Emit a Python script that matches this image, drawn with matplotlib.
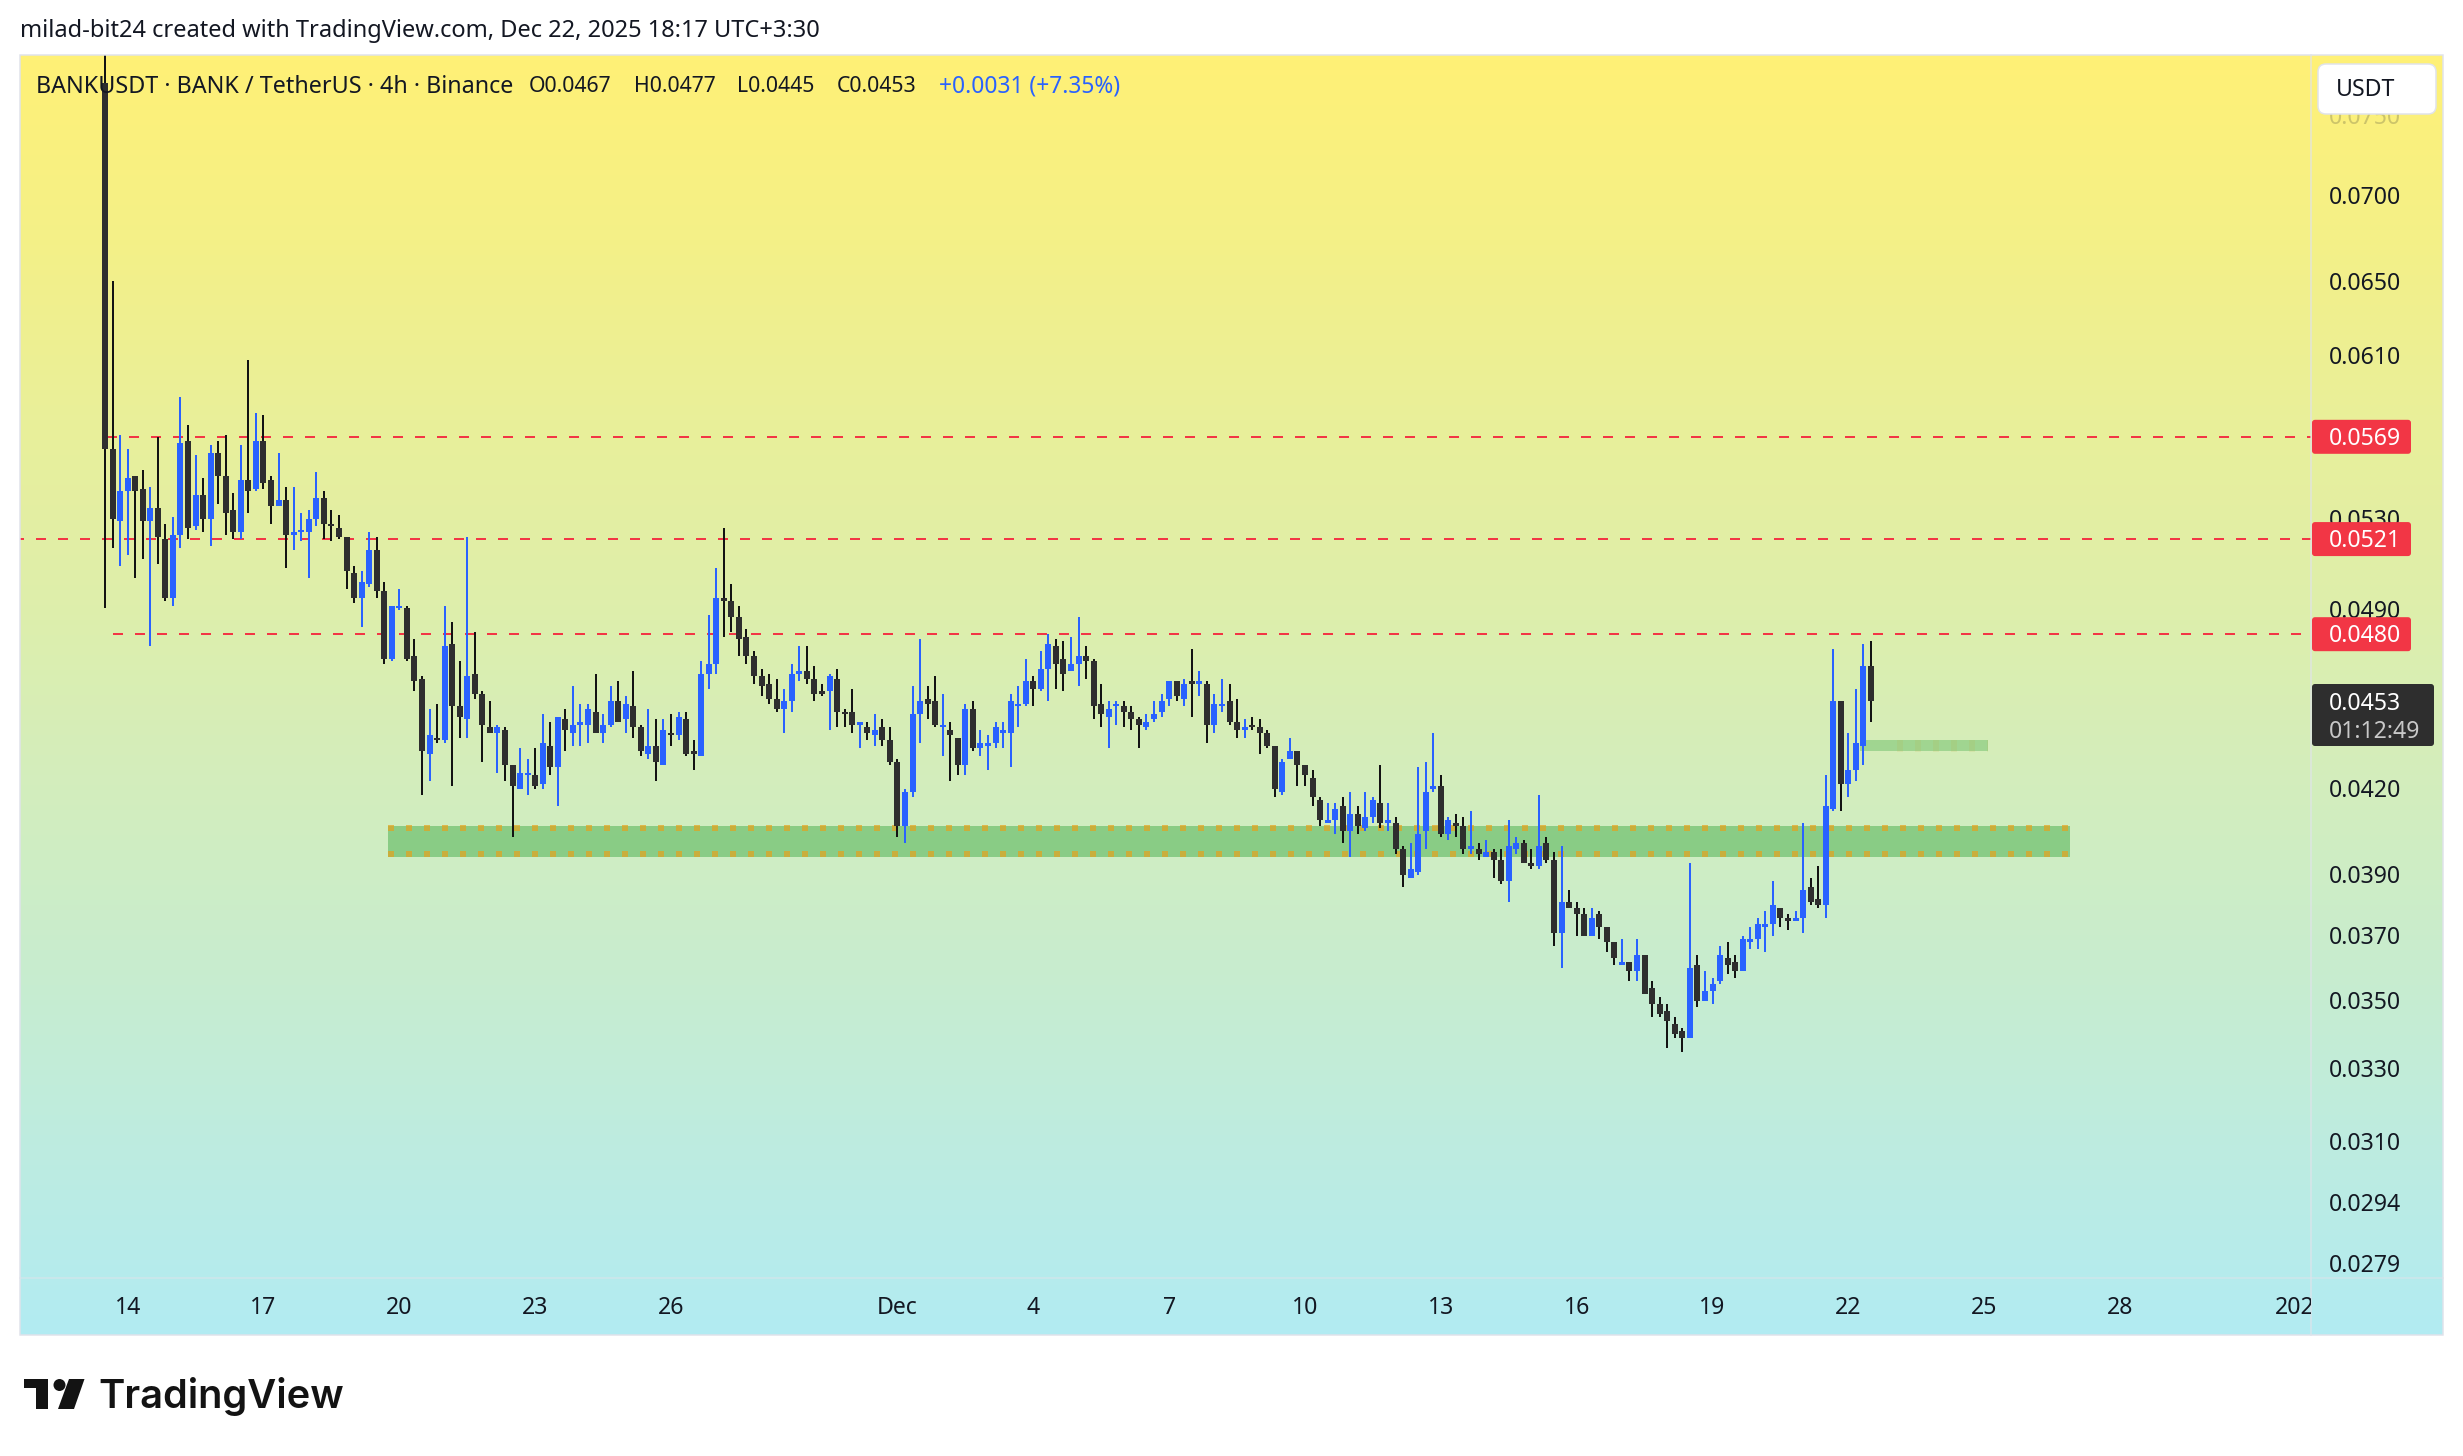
import numpy as np
import matplotlib
matplotlib.use("Agg")
import matplotlib.pyplot as plt
from matplotlib.colors import LinearSegmentedColormap
from matplotlib.patches import FancyBboxPatch, Polygon, Circle, Rectangle

# BANKUSDT 4h candles, prices in ticks of 0.0001
tick = 0.0001
opens = [772,563,529,543,550,544,529,535,521,495,523,567,527,541,530,561,550,534,524,548,
         544,567,548,536,539,523,524,524,530,540,528,526,522,506,495,501,516,498,470,491,
         491,471,462,433,439,438,476,451,446,464,456,443,441,442,429,420,425,425,422,436,
         428,446,441,444,444,449,441,444,453,446,451,443,433,436,429,441,440,446,434,432,
         464,468,495,494,487,479,471,463,460,454,450,453,464,465,462,457,457,462,449,449,
         444,443,440,443,438,430,407,419,448,454,453,443,442,439,429,450,435,436,437,441,
         441,451,452,461,458,466,475,470,465,468,471,469,452,447,451,451,449,446,443,446,
         449,454,461,454,461,460,460,444,451,453,445,442,444,443,441,436,419,431,434,429,
         424,416,408,409,414,405,411,406,410,415,408,408,399,389,391,405,420,421,404,408,
         407,399,399,396,398,395,388,399,401,394,393,401,395,371,381,379,377,370,377,373,
         368,361,362,359,364,354,349,347,343,341,339,361,350,353,356,363,362,359,368,369,
         373,374,379,376,375,376,386,382,380,413,453,422,427,436,467]
highs = [800,651,570,563,550,553,545,569,528,531,589,575,560,549,565,567,570,542,565,608,
         581,580,550,561,545,545,533,534,552,543,534,532,522,509,507,524,522,502,492,499,
         492,478,463,450,452,492,485,469,522,481,457,453,444,443,429,435,431,435,448,445,
         447,450,459,452,452,464,448,459,461,455,465,444,450,446,446,448,449,449,438,469,
         488,508,526,501,492,482,473,466,464,462,458,468,475,475,467,460,464,466,450,458,
         445,445,448,446,443,431,420,459,478,459,463,456,445,439,452,453,442,440,445,445,
         456,459,470,463,473,480,478,477,479,487,475,470,460,453,453,453,451,447,448,453,
         456,461,461,462,474,465,461,456,462,460,454,446,447,446,442,436,431,439,434,429,
         427,417,415,415,417,419,414,419,417,429,415,410,400,401,428,430,441,425,410,411,
         410,412,401,402,399,399,409,403,402,399,418,403,398,400,385,381,379,379,378,373,
         368,369,362,369,364,356,351,349,345,342,394,364,359,357,367,368,364,370,373,376,
         378,388,379,377,378,408,389,393,425,474,453,441,458,476,477]
lows = [491,517,509,514,504,512,475,510,494,492,517,521,525,524,518,537,523,521,521,533,
        543,544,528,536,508,516,520,504,527,521,520,521,499,493,483,500,495,468,469,490,
        469,457,418,423,437,437,421,439,439,454,430,441,426,423,403,420,418,420,420,425,
        414,434,436,436,437,441,437,443,445,441,439,432,431,423,429,436,438,432,427,432,
        458,464,479,481,471,468,460,455,452,449,441,449,461,460,453,455,442,443,443,441,
        435,438,436,436,429,403,401,417,437,446,443,432,423,425,425,434,432,427,435,435,
        428,443,451,451,457,453,458,457,465,459,462,446,443,435,444,443,442,435,442,445,
        447,451,453,451,447,455,437,441,449,444,439,439,442,433,435,417,418,431,421,421,
        414,407,408,404,401,396,404,405,408,406,405,397,386,389,390,399,419,403,402,403,
        397,397,395,396,389,387,381,397,394,392,392,394,367,360,379,370,370,370,369,365,
        361,361,356,356,352,345,345,336,339,335,339,348,350,349,355,358,357,359,366,366,
        365,370,373,372,375,371,380,379,376,412,412,417,423,429,445]
closes = [563,530,543,549,543,529,535,522,495,523,566,526,541,530,561,550,533,524,548,543,
          567,547,536,539,523,524,525,530,540,528,527,522,507,495,502,516,498,470,492,492,
          470,461,434,440,438,475,451,447,463,456,444,441,443,429,421,426,426,421,437,428,
          447,442,444,445,450,441,444,453,445,452,443,434,436,430,442,440,447,433,433,464,
          468,495,494,487,478,471,463,459,454,450,453,464,465,462,456,456,463,449,448,444,
          445,441,442,438,430,407,419,448,453,452,444,444,440,429,450,435,437,437,443,442,
          453,452,461,458,466,476,468,464,468,471,469,451,448,450,452,449,446,444,445,448,
          453,461,455,460,460,461,444,452,452,445,442,443,443,441,436,420,430,434,429,425,
          417,409,409,413,405,411,407,410,416,408,409,399,390,392,404,419,421,404,409,407,
          399,400,397,398,395,388,400,401,394,393,400,395,371,381,379,377,370,376,373,368,
          363,362,359,364,352,349,346,344,340,339,360,350,353,355,364,361,359,369,369,374,
          374,380,376,375,376,385,381,380,414,453,422,427,437,467,453]

tick_pos = [3, 21, 39, 57, 75, 105, 123, 141, 159, 177, 195, 213, 231, 249, 267, 291]
tick_labels = ["14", "17", "20", "23", "26", "Dec", "4", "7", "10", "13", "16", "19", "22", "25", "28", "2026"]

price_ticks = [0.0750, 0.0700, 0.0650, 0.0610, 0.0530, 0.0490, 0.0420, 0.0390, 0.0370,
               0.0350, 0.0330, 0.0310, 0.0294, 0.0279]
level_prices = [0.0569, 0.0521, 0.0480]
level_starts = [0.25, -12, 1]
last_price = 0.0453
zone_top, zone_bottom = 0.0407, 0.0396
zone_start, zone_end = 37.5, 260.4
box_top, box_bottom = 0.0438, 0.0434
box_start, box_end = 232.5, 249.5

W, H = 2463, 1456
PX = 72 / 100  # one pixel in points
BLUE = "#2962FF"
BODY = "#2E2E2E"
WICK = "#131313"
RED = "#F23645"
INK = "#131722"

fig = plt.figure(figsize=(W / 100, H / 100), dpi=100, facecolor="white")

# pixel canvas behind the chart, for the gradient
bg = fig.add_axes([0, 0, 1, 1], zorder=0)
bg.axis("off")
cmap = LinearSegmentedColormap.from_list("tv", ["#FFF176", "#B2EBF2"])
bg.imshow(np.linspace(0, 1, 256).reshape(-1, 1), cmap=cmap, aspect="auto",
          extent=(20, 2443, 1335, 55), zorder=1)
bg.set_xlim(0, W)
bg.set_ylim(H, 0)

# price chart
L, R, T, B = 20, 2311, 55, 1278
step = 7.547
ax = fig.add_axes([L / W, 1 - B / H, (R - L) / W, (B - T) / H], zorder=1)
ax.patch.set_alpha(0)
ax.set_yscale("log")
ax.set_xlim((L - 105) / step, (R - 105) / step)
ax.set_ylim(0.02756, 0.07907)
ax.axis("off")

o = np.array(opens) * tick
h = np.array(highs) * tick
l = np.array(lows) * tick
c = np.array(closes) * tick
x = np.arange(len(o))
up = c >= o

ax.add_patch(Rectangle((zone_start, zone_bottom), zone_end - zone_start, zone_top - zone_bottom,
                       facecolor="#4CAF50", alpha=0.53, lw=0, zorder=1))
for p in (0.04062, 0.03972):
    ax.plot([zone_start, zone_end], [p, p], color="#E5A21C", alpha=0.7, lw=6 * PX,
            ls=(0, (1, 2)), dash_capstyle="butt", zorder=2)
ax.add_patch(Rectangle((box_start, box_bottom), box_end - box_start, box_top - box_bottom,
                       facecolor="#4CAF50", alpha=0.38, lw=0, zorder=1))
ax.plot([box_start + 5, box_end], [0.0436, 0.0436], color="#C9A835", alpha=0.12, lw=12 * PX,
        ls=(0, (0.5, 1)), dash_capstyle="butt", zorder=2)

for p, s in zip(level_prices, level_starts):
    ax.plot([s, 293], [p, p], color=RED, lw=2 * PX, ls=(0, (5, 6)),
            dash_capstyle="butt", zorder=3)

ax.vlines(x[up], l[up], h[up], color=BLUE, lw=2 * PX, antialiased=False, zorder=4)
ax.vlines(x[~up], l[~up], h[~up], color=WICK, lw=2 * PX, antialiased=False, zorder=4)
ax.bar(x[up], (c - o)[up], bottom=o[up], width=6 / step, color=BLUE, lw=0,
       antialiased=False, zorder=5)
ax.bar(x[~up], (o - c)[~up], bottom=c[~up], width=6 / step, color=BODY, lw=0,
       antialiased=False, zorder=5)

# labels and frame sit on a second pixel canvas
top = fig.add_axes([0, 0, 1, 1], zorder=2)
top.patch.set_alpha(0)
top.set_xlim(0, W)
top.set_ylim(H, 0)
top.axis("off")

top.add_patch(Rectangle((20, 55), 2423, 1280, fill=False, ec="#E0E3EB", lw=1.5 * PX))
top.plot([R, R], [55, 1335], color="#E0E3EB", alpha=0.6, lw=2 * PX)
top.plot([20, 2443], [B, B], color="#E0E3EB", alpha=0.45, lw=2 * PX)

TEXT = ["Noto Sans", "DejaVu Sans"]
top.text(20, 31, "milad-bit24 created with TradingView.com, Dec 22, 2025 18:17 UTC+3:30",
         family=TEXT, fontsize=17, color=INK, va="center")
top.text(36, 87, "BANKUSDT · BANK / TetherUS · 4h · Binance", family=TEXT, fontsize=16.8,
         color=INK, va="center")
for tx, s in zip([529, 634, 737, 837], ["O0.0467", "H0.0477", "L0.0445", "C0.0453"]):
    top.text(tx, 87, s, family=TEXT, fontsize=15.3, color=INK, va="center")
top.text(939, 87, "+0.0031 (+7.35%)", family=TEXT, fontsize=16.4, color=BLUE, va="center")

# time axis
for pos, s in zip(tick_pos, tick_labels):
    t = top.text(105 + pos * step, 1308, s, family=TEXT, fontsize=16.6, color=INK,
                 ha="center", va="center")
    t.set_clip_on(True)
    t.set_clip_path(Rectangle((20, 1278), R - 20, 57, transform=top.transData))

# price axis
to_y = lambda p: T + (B - T) * np.log(0.07907 / p) / np.log(0.07907 / 0.02756)
for p in price_ticks:
    top.text(2329, to_y(p) + 2, f"{p:.4f}", family=TEXT, fontsize=16.6, color=INK,
             va="center", alpha=0.2 if p == 0.0750 else 1)

top.add_patch(FancyBboxPatch((2318, 64), 118, 50, boxstyle="round,pad=0,rounding_size=8",
                             fc="white", ec="#E0E3EB", lw=1.5 * PX, zorder=4))
top.text(2336, 90, "USDT", family=TEXT, fontsize=16.6, color=INK, va="center", zorder=5)

for p in level_prices:
    yy = to_y(p)
    top.add_patch(FancyBboxPatch((2312, yy - 17), 99, 34, boxstyle="round,pad=0,rounding_size=3",
                                 fc=RED, ec="none", zorder=4))
    top.text(2329, yy + 2, f"{p:.4f}", family=TEXT, fontsize=16.6, color="white",
             va="center", zorder=5)

top.add_patch(FancyBboxPatch((2312, 684), 122, 62, boxstyle="round,pad=0,rounding_size=3",
                             fc=BODY, ec="none", zorder=4))
top.text(2329, 704, f"{last_price:.4f}", family=TEXT, fontsize=16.6, color="white",
         va="center", zorder=5)
top.text(2329, 732, "01:12:49", family=TEXT, fontsize=16.6, color="#C8C8C8",
         va="center", zorder=5)

# TradingView mark and wordmark
top.add_patch(Polygon([(24, 1379), (48, 1379), (48, 1409), (36, 1409), (36, 1388), (24, 1388)],
                      fc="#131313", ec="none"))
top.add_patch(Circle((59.5, 1385), 6, fc="#131313", ec="none"))
top.add_patch(Polygon([(69, 1379), (84.5, 1379), (74, 1409), (58, 1409)], fc="#131313", ec="none"))
top.text(98, 1396, "TradingView", family="Inter", fontsize=28.7, fontweight="semibold",
         color="#131313", va="center")

fig.savefig("out.png", dpi=100)
